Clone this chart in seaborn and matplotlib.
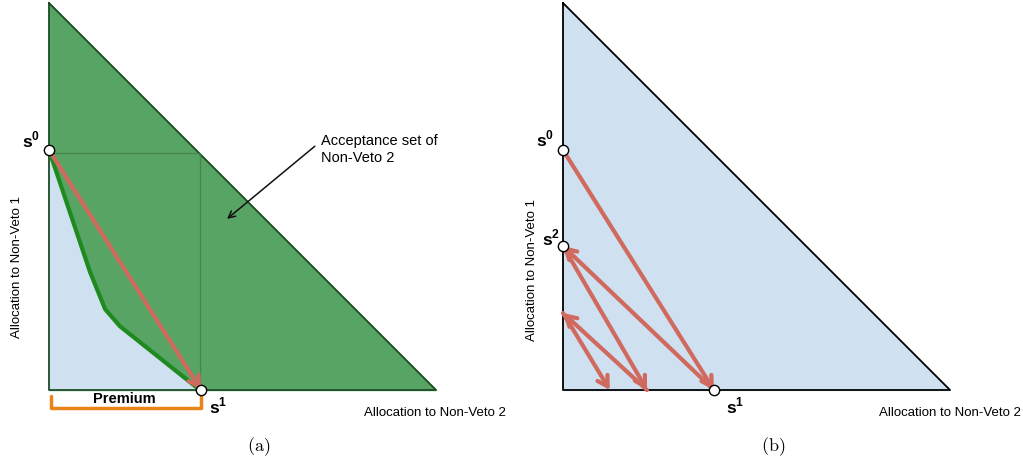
import matplotlib
matplotlib.use("Agg")
import matplotlib.pyplot as plt
import seaborn as sns
import pandas as pd

sns.set_theme(style="white")
plt.rcParams['font.family'] = ['Liberation Sans', 'DejaVu Sans']
plt.rcParams['text.color'] = 'black'
plt.rcParams['mathtext.fontset'] = 'custom'
plt.rcParams['mathtext.rm'] = 'Liberation Sans'
plt.rcParams['mathtext.bf'] = 'Liberation Sans:bold'

# ---- data ----
tri_x = [0.0, 0.0, 1.0, 0.0]
tri_y = [1.0, 0.0, 0.0, 1.0]
s0_y = 0.62
s1_x = 0.393
curve_x = [0.0, 0.106, 0.145, 0.183, 0.39]
curve_y = [0.62, 0.305, 0.209, 0.165, 0.0]
rect_y = 0.612
rect_x = 0.39
# right panel zigzag (offers)
zig_x = [0.0, 0.39, 0.0, 0.217, 0.0, 0.121]
zig_y = [0.62, 0.0, 0.372, 0.0, 0.199, 0.0]
s2_y = 0.372

GREEN = '#58a464'
BLUE = '#cfe0f1'
RED = '#d0695e'
ORANGE = '#e8841a'
CURVE = '#1f8a1f'

W, H = 1023, 464
fig = plt.figure(figsize=(W / 100, H / 100), dpi=100)
S = 387.0


def make_ax(x0px, ox):
    ax = fig.add_axes([x0px / W, 0, 511 / W, 1])
    ax.set_xlim((x0px - ox) / S, (x0px + 511 - ox) / S)
    ax.set_ylim(-(H - 391) / S, 391 / S)
    ax.axis('off')
    return ax


def arrow(ax, p, q, lw=3):
    ax.annotate('', xy=q, xytext=p,
                arrowprops=dict(arrowstyle='->,head_length=0.6,head_width=0.35',
                                color=RED, lw=lw, shrinkA=0, shrinkB=0),
                zorder=5)


def point(ax, x, y):
    df = pd.DataFrame({'x': [x], 'y': [y]})
    sns.scatterplot(data=df, x='x', y='y', ax=ax, s=55, color='white',
                    edgecolor='black', linewidth=1.0, zorder=10, legend=False)


def slabel(ax, x, y, k):
    ax.text(x, y, r'$\mathbf{s}^{\mathbf{%d}}$' % k, fontsize=12.5,
            ha='center', va='center')


# ---------- left panel ----------
ax = make_ax(0, 49)
ax.fill(tri_x, tri_y, color=GREEN, zorder=1)
ax.fill([0.0] + curve_x + [0.0], [0.0] + curve_y + [0.0], color=BLUE, zorder=2)
sns.lineplot(x=tri_x, y=tri_y, sort=False, estimator=None, ax=ax,
             color='#1d4d25', lw=1.3, zorder=3)
ax.plot([0, 1 - rect_y], [rect_y, rect_y], color='#3f7f4a', lw=0.9, alpha=0.8, zorder=3)
ax.plot([rect_x, rect_x], [0, rect_y], color='#3f7f4a', lw=0.9, alpha=0.8, zorder=3)
sns.lineplot(x=curve_x, y=curve_y, sort=False, estimator=None, ax=ax,
             color=CURVE, lw=3, zorder=4)
arrow(ax, (0.0, s0_y), (s1_x, 0.0))
point(ax, 0.0, s0_y)
point(ax, s1_x, 0.0)
slabel(ax, -0.046, 0.649, 0)
slabel(ax, 0.437, -0.039, 1)
# Premium bracket
ax.plot([0.005, 0.005, s1_x, s1_x], [-0.016, -0.046, -0.046, -0.016],
        color=ORANGE, lw=2.5, solid_joinstyle='round', solid_capstyle='round', zorder=4)
ax.text(0.194, -0.021, 'Premium', fontsize=10.5, fontweight='bold',
        ha='center', va='center')
# annotation
ax.annotate('', xy=(0.46, 0.442), xytext=(0.687, 0.630),
            arrowprops=dict(arrowstyle='->', color='#111111', lw=1.1,
                            shrinkA=0, shrinkB=0), zorder=6)
ax.text(0.703, 0.664, 'Acceptance set of\nNon-Veto 2', fontsize=10.5,
        ha='left', va='top', linespacing=1.3)
ax.text(1.181, -0.057, 'Allocation to Non-Veto 2', fontsize=9.5,
        ha='right', va='center')
ax.text(-0.083, 0.32, 'Allocation to Non-Veto 1', fontsize=9.5,
        ha='center', va='center', rotation=90)
ax.text(0.543, -0.145, r'$\mathrm{(a)}$', fontsize=13, ha='center',
        va='center', math_fontfamily='cm')

# ---------- right panel ----------
ax = make_ax(512, 563)
ax.fill(tri_x, tri_y, color=BLUE, zorder=1)
sns.lineplot(x=tri_x, y=tri_y, sort=False, estimator=None, ax=ax,
             color='black', lw=1.3, zorder=3)
for i in range(len(zig_x) - 1):
    arrow(ax, (zig_x[i], zig_y[i]), (zig_x[i + 1], zig_y[i + 1]))
point(ax, 0.0, s0_y)
point(ax, 0.0, s2_y)
point(ax, zig_x[1], 0.0)
slabel(ax, -0.047, 0.651, 0)
slabel(ax, -0.03, 0.395, 2)
slabel(ax, 0.444, -0.039, 1)
ax.text(1.183, -0.057, 'Allocation to Non-Veto 2', fontsize=9.5,
        ha='right', va='center')
ax.text(-0.080, 0.313, 'Allocation to Non-Veto 1', fontsize=9.5,
        ha='center', va='center', rotation=90)
ax.text(0.543, -0.145, r'$\mathrm{(b)}$', fontsize=13, ha='center',
        va='center', math_fontfamily='cm')

fig.savefig('out.png', dpi=100)
